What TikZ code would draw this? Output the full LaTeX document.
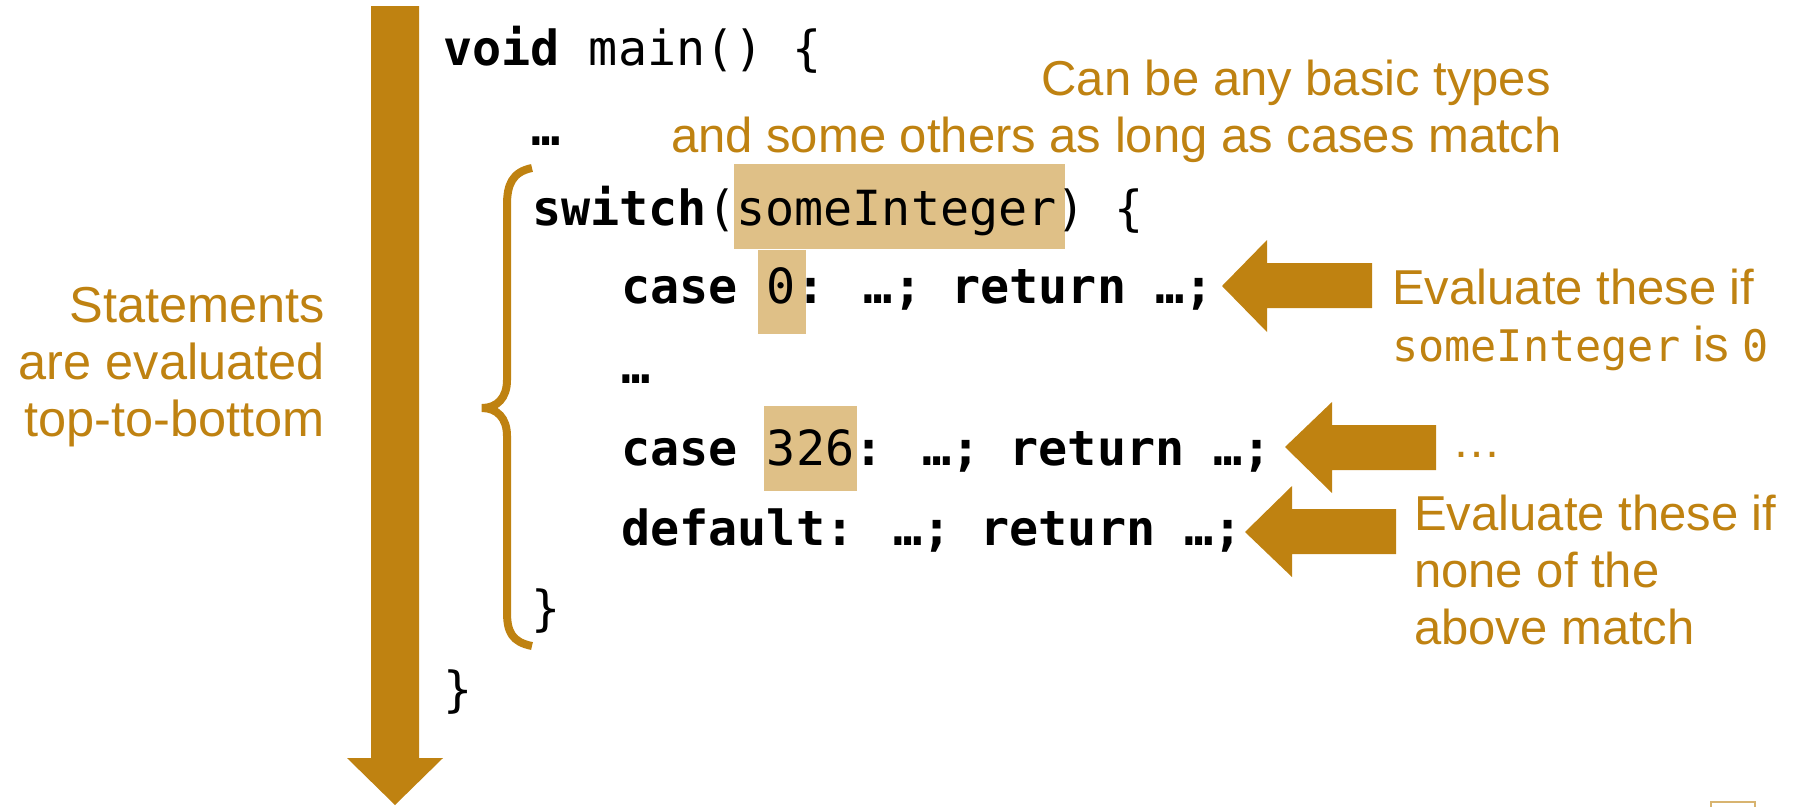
\documentclass[tikz,border=0pt]{standalone}
\usepackage{fontspec}
\setmainfont{Liberation Sans}
\newfontfamily\codefont{DejaVu Sans Mono}
\definecolor{gold}{HTML}{BF8211}
\definecolor{tan}{HTML}{DFC087}
\tikzset{
  code/.style={anchor=base west, inner sep=0pt, font=\codefont\fontsize{48.4}{57}\selectfont},
  note/.style={inner sep=0pt, text=gold, font=\fontsize{49}{57}\selectfont},
  hl/.style={fill=tan},
  blockarrow/.style={fill=gold},
}
\newcommand\mylines[2]{\begin{tabular}[t]{@{}#1@{}}#2\end{tabular}}
\newcommand\smallcode{\codefont\fontsize{43.5}{57}\selectfont}
\begin{document}
\begin{tikzpicture}[x=1pt,y=-1pt]
\useasboundingbox (0,0) rectangle (1801,806);
% highlights
\fill[hl] (734,164) rectangle (1065,249);
\fill[hl] (758,250) rectangle (806,334);
\fill[hl] (764,406) rectangle (857,491);
% down arrow
\fill[blockarrow] (371,6) -- (419,6) -- (419,758) -- (443,758) -- (395,805) -- (347,758) -- (371,758) -- cycle;
% left arrows
\fill[blockarrow] (1372,263) -- (1267,263) -- (1267,240) -- (1222,286) -- (1267,332) -- (1267,308) -- (1372,308) -- cycle;
\fill[blockarrow] (1436,425) -- (1332,425) -- (1332,402) -- (1285,447) -- (1332,493) -- (1332,470) -- (1436,470) -- cycle;
\fill[blockarrow] (1396,509) -- (1292,509) -- (1292,486) -- (1245,532) -- (1292,577) -- (1292,554) -- (1396,554) -- cycle;
% brace
\draw[gold, line width=8pt] (532,168) .. controls (512,172) and (507,185) .. (507,205) -- (507,380)
  .. controls (507,398) and (497,408) .. (482,408) .. controls (497,408) and (507,418) .. (507,436)
  -- (507,612) .. controls (507,632) and (512,642) .. (532,646);
% code
\node[code] (l1) at (443,65) {\textbf{void} main() \{};
\node[code] (l2) at (531,145) {\textbf{…}};
\node[code] (l3) at (532,225) {\textbf{switch}(someInteger) \{};
\node[code] (l4) at (621,303) {\textbf{case }0\textbf{: …; return …;}};
\node[code] (l5) at (621,383) {\textbf{…}};
\node[code] (l6) at (621,465) {\textbf{case }326\textbf{: …; return …;}};
\node[code] (l7) at (621,545) {\textbf{default: …; return …;}};
\node[code] (l8) at (531,625) {\}};
\node[code] (l9) at (443,706) {\}};
% notes
\node[note, anchor=base east] (types) at (1562,95) {\mylines{r}{Can be any basic types\hspace*{11pt}\\and some others as long as cases match}};
\node[note, anchor=base east, font=\fontsize{50.5}{57}\selectfont] (stmt) at (325,322) {\mylines{r}{Statements\\are evaluated\\top-to-bottom}};
\node[note, anchor=base west] (ev1) at (1392,304) {\mylines{l}{Evaluate these if\\{\smallcode someInteger} is {\smallcode 0}}};
\node[note, anchor=base west] (dots) at (1452,457) {…};
\node[note, anchor=base west] (ev2) at (1414,530) {\mylines{l}{Evaluate these if\\none of the\\above match}};
% corner mark
\draw[gold!60, line width=1.5pt] (1711,802) rectangle (1755,820);
\end{tikzpicture}
\end{document}
